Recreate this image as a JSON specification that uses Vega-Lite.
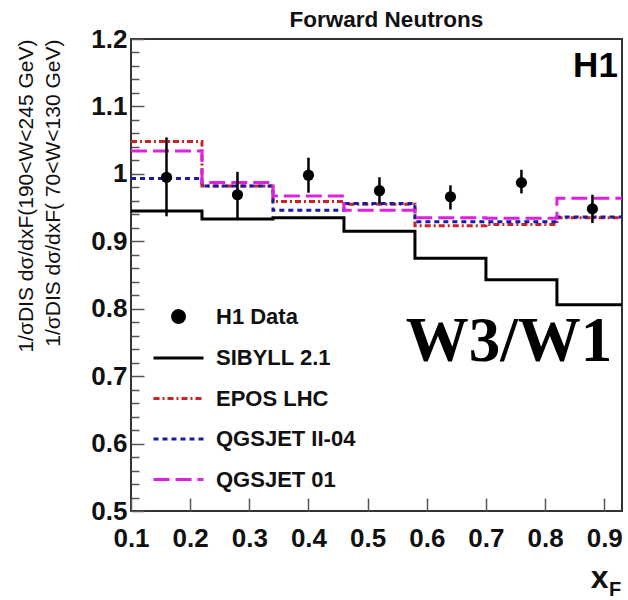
{
  "$schema": "https://vega.github.io/schema/vega-lite/v6.json",
  "width": 491,
  "height": 472,
  "autosize": {"type": "none"},
  "padding": {"left": 131, "top": 39, "right": 6, "bottom": 89},
  "background": "white",
  "config": {
    "view": {"stroke": "#333333", "strokeWidth": 2},
    "font": "Liberation Sans"
  },
  "title": {
    "text": "Forward Neutrons",
    "font": "Liberation Sans",
    "fontSize": 22.5,
    "fontWeight": "bold",
    "color": "#111111",
    "anchor": "middle",
    "frame": "group",
    "baseline": "bottom",
    "offset": 8,
    "dx": 10,
    "dy": 36
  },
  "datasets": {
    "models": [
      {"x": 0.10, "y": 0.945, "series": "SIBYLL 2.1"},
      {"x": 0.22, "y": 0.933, "series": "SIBYLL 2.1"},
      {"x": 0.34, "y": 0.935, "series": "SIBYLL 2.1"},
      {"x": 0.46, "y": 0.915, "series": "SIBYLL 2.1"},
      {"x": 0.58, "y": 0.875, "series": "SIBYLL 2.1"},
      {"x": 0.70, "y": 0.843, "series": "SIBYLL 2.1"},
      {"x": 0.82, "y": 0.806, "series": "SIBYLL 2.1"},
      {"x": 0.94, "y": 0.806, "series": "SIBYLL 2.1"},
      {"x": 0.10, "y": 1.048, "series": "EPOS LHC"},
      {"x": 0.22, "y": 0.982, "series": "EPOS LHC"},
      {"x": 0.34, "y": 0.959, "series": "EPOS LHC"},
      {"x": 0.46, "y": 0.955, "series": "EPOS LHC"},
      {"x": 0.58, "y": 0.923, "series": "EPOS LHC"},
      {"x": 0.70, "y": 0.925, "series": "EPOS LHC"},
      {"x": 0.82, "y": 0.935, "series": "EPOS LHC"},
      {"x": 0.94, "y": 0.935, "series": "EPOS LHC"},
      {"x": 0.10, "y": 0.993, "series": "QGSJET II-04"},
      {"x": 0.22, "y": 0.982, "series": "QGSJET II-04"},
      {"x": 0.34, "y": 0.946, "series": "QGSJET II-04"},
      {"x": 0.46, "y": 0.956, "series": "QGSJET II-04"},
      {"x": 0.58, "y": 0.929, "series": "QGSJET II-04"},
      {"x": 0.70, "y": 0.929, "series": "QGSJET II-04"},
      {"x": 0.82, "y": 0.936, "series": "QGSJET II-04"},
      {"x": 0.94, "y": 0.936, "series": "QGSJET II-04"},
      {"x": 0.10, "y": 1.034, "series": "QGSJET 01"},
      {"x": 0.22, "y": 0.987, "series": "QGSJET 01"},
      {"x": 0.34, "y": 0.967, "series": "QGSJET 01"},
      {"x": 0.46, "y": 0.946, "series": "QGSJET 01"},
      {"x": 0.58, "y": 0.935, "series": "QGSJET 01"},
      {"x": 0.70, "y": 0.934, "series": "QGSJET 01"},
      {"x": 0.82, "y": 0.964, "series": "QGSJET 01"},
      {"x": 0.94, "y": 0.964, "series": "QGSJET 01"}
    ],
    "h1": [
      {"x": 0.16, "y": 0.995, "lo": 0.937, "hi": 1.054, "series": "H1 Data"},
      {"x": 0.28, "y": 0.969, "lo": 0.932, "hi": 1.003, "series": "H1 Data"},
      {"x": 0.40, "y": 0.998, "lo": 0.972, "hi": 1.024, "series": "H1 Data"},
      {"x": 0.52, "y": 0.975, "lo": 0.956, "hi": 0.995, "series": "H1 Data"},
      {"x": 0.64, "y": 0.966, "lo": 0.947, "hi": 0.983, "series": "H1 Data"},
      {"x": 0.76, "y": 0.987, "lo": 0.971, "hi": 1.006, "series": "H1 Data"},
      {"x": 0.88, "y": 0.948, "lo": 0.927, "hi": 0.969, "series": "H1 Data"}
    ]
  },
  "resolve": {"axis": {"y": "independent"}},
  "layer": [
    {
      "data": {"name": "models"},
      "mark": {"type": "line", "interpolate": "step-after", "strokeWidth": 3, "clip": true},
      "encoding": {
        "x": {
          "field": "x", "type": "quantitative",
          "scale": {"domain": [0.1, 0.93], "nice": false, "zero": false},
          "axis": {
            "values": [0.1, 0.2, 0.3, 0.4, 0.5, 0.6, 0.7, 0.8, 0.9],
            "format": ".1~f",
            "domain": false, "grid": false,
            "tickSize": -13, "tickColor": "#555555", "tickWidth": 1.5,
            "labelPadding": 27, "labelFlush": false, "labelOverlap": false,
            "labelFont": "Liberation Sans",
            "labelFontSize": 26, "labelFontWeight": "bold", "labelColor": "#111111",
            "title": "x",
            "titleFont": "Liberation Sans", "titleFontSize": 32, "titleFontWeight": "bold",
            "titleColor": "#111111",
            "titleAlign": "right", "titleBaseline": "alphabetic",
            "titleX": 477, "titleY": 76
          }
        },
        "y": {
          "field": "y", "type": "quantitative",
          "scale": {"domain": [0.5, 1.2], "nice": false, "zero": false},
          "axis": {
            "orient": "left",
            "values": [0.5, 0.6, 0.7, 0.8, 0.9, 1.0, 1.1, 1.2],
            "format": ".1~f",
            "domain": false, "grid": false,
            "tickSize": -13, "tickColor": "#555555", "tickWidth": 1.5,
            "labelPadding": 17, "labelOverlap": false, "labelFlush": false,
            "labelFont": "Liberation Sans",
            "labelFontSize": 26, "labelFontWeight": "bold", "labelColor": "#111111",
            "title": ["1/σDIS dσ/dxF(190<W<245 GeV)", "1/σDIS dσ/dxF( 70<W<130 GeV)"],
            "titleFont": "Liberation Sans", "titleFontSize": 21, "titleFontWeight": "normal",
            "titleColor": "#111111",
            "titleAnchor": "end", "titleLineHeight": 27, "titlePadding": 27
          }
        },
        "color": {
          "field": "series", "type": "nominal",
          "scale": {
            "domain": ["H1 Data", "SIBYLL 2.1", "EPOS LHC", "QGSJET II-04", "QGSJET 01"],
            "range": ["#000000", "#000000", "#cc2222", "#1a1aa8", "#dd22dd"]
          },
          "legend": {
            "orient": "none", "legendX": 36, "legendY": 266,
            "title": null, "padding": 0, "rowPadding": 17.5,
            "symbolSize": 400, "symbolStrokeWidth": 3,
            "labelFont": "Liberation Sans", "labelFontSize": 22, "labelFontWeight": "bold",
            "labelColor": "#111111", "labelOffset": 26, "labelLimit": 300,
            "encode": {
              "symbols": {
                "update": {
                  "shape": {"signal": "datum.value === 'H1 Data' ? 'circle' : 'M-2.5,0H2.5'"},
                  "size": {"signal": "datum.value === 'H1 Data' ? 140 : 400"},
                  "fill": {"signal": "datum.value === 'H1 Data' ? '#000000' : 'transparent'"},
                  "stroke": {"scale": "color", "field": "value"},
                  "strokeWidth": {"value": 3},
                  "opacity": {"value": 1}
                }
              }
            }
          }
        },
        "strokeDash": {
          "field": "series", "type": "nominal",
          "scale": {
            "domain": ["H1 Data", "SIBYLL 2.1", "EPOS LHC", "QGSJET II-04", "QGSJET 01"],
            "range": [[1, 0], [1, 0], [6, 3, 2, 3], [5, 4], [16, 6]]
          }
        }
      }
    },
    {
      "data": {"name": "h1"},
      "mark": {"type": "rule", "color": "#000000", "strokeWidth": 2.5},
      "encoding": {
        "x": {"field": "x", "type": "quantitative"},
        "y": {
          "field": "lo", "type": "quantitative",
          "axis": {
            "orient": "left",
            "values": [0.52, 0.54, 0.56, 0.58, 0.62, 0.64, 0.66, 0.68, 0.72, 0.74, 0.76, 0.78, 0.82, 0.84, 0.86, 0.88, 0.92, 0.94, 0.96, 0.98, 1.02, 1.04, 1.06, 1.08, 1.12, 1.14, 1.16, 1.18],
            "labels": false, "domain": false, "grid": false, "title": null,
            "tickSize": -8, "tickColor": "#555555", "tickWidth": 1.5
          }
        },
        "y2": {"field": "hi"}
      }
    },
    {
      "data": {"name": "h1"},
      "mark": {"type": "point", "filled": true, "size": 125, "opacity": 1},
      "encoding": {
        "x": {"field": "x", "type": "quantitative"},
        "y": {"field": "y", "type": "quantitative", "axis": null},
        "color": {"field": "series", "type": "nominal"}
      }
    },
    {
      "data": {"values": [{"label": "H1"}]},
      "mark": {
        "type": "text", "align": "right", "baseline": "alphabetic",
        "font": "Liberation Sans",
        "fontSize": 35, "fontWeight": "bold", "color": "#000000"
      },
      "encoding": {
        "x": {"datum": 0.923},
        "y": {"datum": 1.1436, "axis": null},
        "text": {"field": "label"}
      }
    },
    {
      "data": {"values": [{"label": "W3/W1"}]},
      "mark": {
        "type": "text", "align": "center", "baseline": "alphabetic",
        "font": "Liberation Serif", "fontSize": 63, "fontWeight": "bold", "color": "#000000"
      },
      "encoding": {
        "x": {"datum": 0.739},
        "y": {"datum": 0.722, "axis": null},
        "text": {"field": "label"}
      }
    },
    {
      "data": {"values": [{"label": "F"}]},
      "mark": {
        "type": "text", "align": "left", "baseline": "alphabetic",
        "font": "Liberation Sans", "fontSize": 20, "fontWeight": "bold", "color": "#111111"
      },
      "encoding": {
        "x": {"datum": 0.908},
        "y": {"datum": 0.3736, "axis": null},
        "text": {"field": "label"}
      }
    }
  ]
}
